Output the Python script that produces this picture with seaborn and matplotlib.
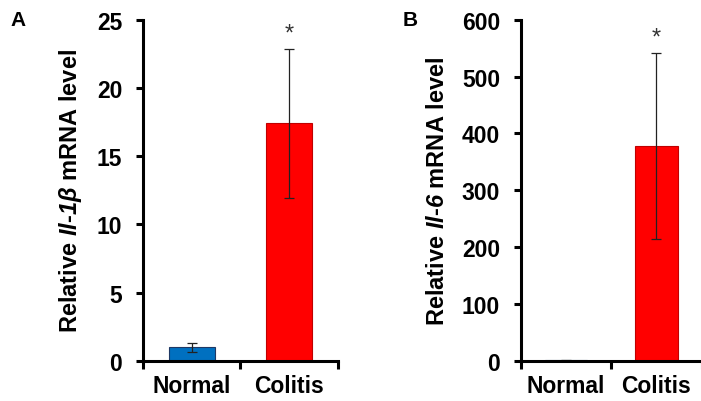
import matplotlib
matplotlib.use("Agg")
import matplotlib.pyplot as plt
import numpy as np
import pandas as pd
import seaborn as sns

groups = ["Normal", "Colitis"]
il1b_mean = [1.0, 17.4]
il1b_err = [0.35, 5.45]
il6_mean = [1.0, 378]
il6_err = [0.3, 164]

bar_colors = {"Normal": "#0070C0", "Colitis": "#FF0000"}
edge_colors = ["#1F3864", "#C00000"]

sns.set_style("white")
plt.rcParams["font.family"] = ["Liberation Sans", "DejaVu Sans"]
plt.rcParams["font.weight"] = "bold"
plt.rcParams["text.color"] = "black"
plt.rcParams["axes.labelcolor"] = "black"
plt.rcParams["xtick.color"] = "black"
plt.rcParams["ytick.color"] = "black"
plt.rcParams["mathtext.fontset"] = "custom"
plt.rcParams["mathtext.it"] = "Liberation Sans:italic:bold"
plt.rcParams["mathtext.sf"] = "Liberation Sans:italic:bold"
plt.rcParams["mathtext.rm"] = "Liberation Sans:bold"
plt.rcParams["mathtext.bf"] = "Liberation Sans:bold"

fig = plt.figure(figsize=(7.01, 4.02), dpi=100)
axA = fig.add_axes([0.204, 0.0995, 0.278, 0.849])
axB = fig.add_axes([0.743, 0.0995, 0.258, 0.849])


def draw_panel(ax, means, errs, ymax, ystep, ylabel):
    df = pd.DataFrame({"group": groups, "value": means})
    sns.barplot(df, x="group", y="value", hue="group", palette=bar_colors,
                legend=False, errorbar=None, width=0.47, ax=ax,
                linewidth=0.8, saturation=1)
    for patch, ec in zip(ax.patches, edge_colors):
        patch.set_edgecolor(ec)
    ax.errorbar(np.arange(len(groups)), means, yerr=errs, fmt="none",
                ecolor="#222222", elinewidth=0.9, capsize=3.5, capthick=0.9)
    ax.annotate("*", xy=(1, means[1] + errs[1]), xytext=(0, 3),
                textcoords="offset points", ha="center", va="bottom",
                fontsize=17, fontweight="normal", color="#333333")
    ax.set_xlim(-0.5, 1.5)
    ax.set_ylim(0, ymax)
    ax.set_yticks(np.arange(0, ymax + ystep / 2, ystep))
    ax.set_xticks([-0.5, 0.5, 1.5])
    ax.set_xticklabels([])
    ax.set_xticks([0, 1], minor=True)
    ax.set_xticklabels(groups, minor=True)
    ax.tick_params(axis="x", which="major", direction="out", length=6,
                   width=2.2, bottom=True)
    ax.tick_params(axis="x", which="minor", length=0, pad=9, labelsize=16.5)
    ax.tick_params(axis="y", direction="out", length=5, width=2.2, left=True,
                   labelsize=16.5, pad=10)
    for lbl in ax.get_xticklabels(minor=True) + ax.get_yticklabels():
        lbl.set_fontweight("bold")
    ax.set_xlabel("")
    ax.set_ylabel(ylabel, fontsize=17, fontweight="bold", labelpad=9)
    sns.despine(ax=ax)
    for s in ["left", "bottom"]:
        ax.spines[s].set_linewidth(2.2)
        ax.spines[s].set_color("black")
        ax.spines[s].set_zorder(5)


draw_panel(axA, il1b_mean, il1b_err, 25, 5,
           r"Relative $\mathsf{Il}$-$\mathsf{1β}$ mRNA level")
draw_panel(axB, il6_mean, il6_err, 600, 100,
           r"Relative $\mathsf{Il}$-$\mathsf{6}$ mRNA level")

fig.text(18 / 701, 1 - 20 / 402, "A", fontsize=15, fontweight="bold",
         ha="center", va="center")
fig.text(410 / 701, 1 - 20 / 402, "B", fontsize=15, fontweight="bold",
         ha="center", va="center")

fig.savefig("out.png", dpi=100)
